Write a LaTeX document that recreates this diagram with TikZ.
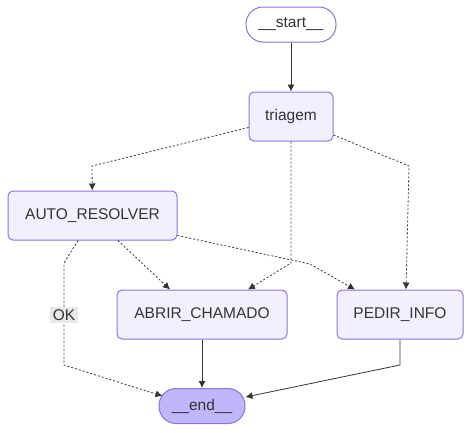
\documentclass[tikz,border=0pt]{standalone}
\usepackage{fontspec}
\setmainfont{Liberation Sans}
\usepackage{xcolor}
\usetikzlibrary{positioning,calc,arrows.meta}

\definecolor{nodefill}{HTML}{F2F0FF}
\definecolor{nodeline}{HTML}{9370DB}
\definecolor{endfill}{HTML}{BFB6FC}
\definecolor{inkgray}{HTML}{333333}
\definecolor{labelfill}{HTML}{E8E8E8}

\begin{document}
\begin{tikzpicture}[x=1pt, y=-1pt,
    graph node/.style={draw=nodeline, fill=nodefill, line width=1pt, rounded corners=5pt, inner sep=0pt, minimum height=49pt, text=inkgray, font=\fontsize{15.5}{18}\selectfont},
    term node/.style={graph node, rounded corners=17pt, minimum height=35pt},
    flow/.style={draw=inkgray, line width=0.8pt, ->, >={Latex[length=7pt,width=7pt]}},
    cond flow/.style={flow, dash pattern=on 2pt off 2pt}]
    \useasboundingbox (0,0) rectangle (471,432);

    \node[term node, fill=white, minimum width=90pt] (start) at (291,24.5) {\_\_start\_\_};
    \node[graph node, minimum width=84pt] (triagem) at (291,116.5) {triagem};
    \node[graph node, minimum width=169pt] (auto) at (92.5,215.5) {AUTO\_RESOLVER};
    \node[graph node, minimum width=170pt] (abrir) at (202,314.5) {ABRIR\_CHAMADO};
    \node[graph node, minimum width=126pt] (pedir) at (400,314.5) {PEDIR\_INFO};
    \node[term node, fill=endfill, minimum width=86pt] (end) at (202,406) {\_\_end\_\_};

    \draw[flow] (start) -- (triagem);
    \draw[cond flow] ([yshift=-11pt]triagem.west) -- (92,166) -- (auto);
    \draw[cond flow] (triagem.south) -- (291,263) -- ([xshift=46pt]abrir.north);
    \draw[cond flow] ([yshift=-18.5pt]triagem.east) -- (409,166) -- ([xshift=6pt]pedir.north);
    \draw[cond flow] ([xshift=25.5pt]auto.south) -- ([xshift=-32pt]abrir.north);
    \draw[cond flow] ([yshift=-20pt]auto.east) -- (310,264) -- ([xshift=-45pt]pedir.north);
    \draw[cond flow] ([xshift=-14.5pt]auto.south) -- (64,263) -- (64,365) -- ([shift={(4pt,10pt)}]end.west);
    \node[fill=labelfill, text=inkgray, inner sep=3pt, font=\fontsize{15.5}{18}\selectfont] (ok) at (64,315) {OK};
    \draw[flow] (abrir) -- (end);
    \draw[flow] (pedir.south) -- (400,365) -- (end);

\end{tikzpicture}
\end{document}
